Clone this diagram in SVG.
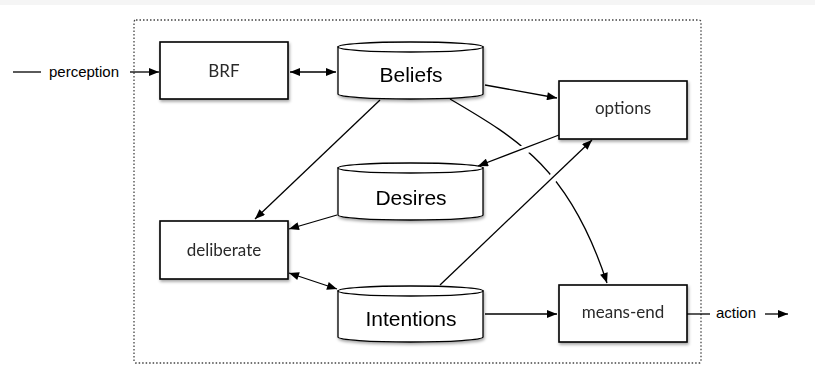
<svg xmlns="http://www.w3.org/2000/svg" width="815" height="377" viewBox="0 0 815 377">
  <defs>
    <filter id="shadow" x="-10%" y="-10%" width="130%" height="140%">
      <feDropShadow dx="1" dy="2" stdDeviation="1.4" flood-color="#000" flood-opacity="0.35"/>
    </filter>
    <marker id="arrow" viewBox="0 0 10 8" refX="10" refY="4" markerWidth="11" markerHeight="8" markerUnits="userSpaceOnUse" orient="auto-start-reverse">
      <path d="M0,0 L10,4 L0,8 Z" fill="#000"/>
    </marker>
    <style>
      .box { fill: #fff; stroke: #000; stroke-width: 1.6; }
      .cyl { fill: #fff; stroke: #000; stroke-width: 1.3; }
      .label { font-family: Lato, "Noto Sans", sans-serif; font-size: 17px; fill: #2a2a2a; text-anchor: middle; }
      .store { font-family: "Liberation Sans", Arial, sans-serif; font-size: 21px; fill: #000; text-anchor: middle; }
      .io { font-family: "Liberation Sans", Arial, sans-serif; font-size: 15px; fill: #000; }
      .edge { fill: none; stroke: #000; stroke-width: 1.3; }
      .halo { fill: none; stroke: #fff; stroke-width: 9; }
    </style>
  </defs>

  <rect x="0" y="0" width="815" height="377" fill="#fff"/>
  <rect x="0" y="0" width="815" height="5" fill="#f5f5f5"/>

  <!-- agent boundary -->
  <rect x="134" y="20" width="567" height="343" rx="2" fill="none" stroke="#444" stroke-width="1.3" stroke-dasharray="1.5 2"/>

  <g id="brf" filter="url(#shadow)">
    <rect class="box" x="160" y="42" width="128" height="57"/>
    <text class="label" x="224" y="77">BRF</text>
  </g>

  <g id="beliefs" filter="url(#shadow)">
    <path class="cyl" d="M338,47 L338,94 A72.5,5 0 0 0 483,94 L483,47 Z"/>
    <ellipse class="cyl" cx="410.5" cy="47" rx="72.5" ry="5"/>
    <text class="store" x="411" y="82">Beliefs</text>
  </g>

  <g id="options" filter="url(#shadow)">
    <rect class="box" x="559" y="81" width="128" height="58"/>
    <text class="label" x="623" y="114">options</text>
  </g>

  <g id="desires" filter="url(#shadow)">
    <path class="cyl" d="M338,168 L338,215 A72.5,5 0 0 0 483,215 L483,168 Z"/>
    <ellipse class="cyl" cx="410.5" cy="168" rx="72.5" ry="5"/>
    <text class="store" x="411" y="205">Desires</text>
  </g>

  <g id="deliberate" filter="url(#shadow)">
    <rect class="box" x="160" y="221" width="128" height="58"/>
    <text class="label" x="224" y="256">deliberate</text>
  </g>

  <g id="intentions" filter="url(#shadow)">
    <path class="cyl" d="M338,291 L338,337 A72.5,5 0 0 0 483,337 L483,291 Z"/>
    <ellipse class="cyl" cx="410.5" cy="291" rx="72.5" ry="5"/>
    <text class="store" x="411" y="326">Intentions</text>
  </g>

  <g id="means-end" filter="url(#shadow)">
    <rect class="box" x="559" y="285" width="128" height="57"/>
    <text class="label" x="623" y="318">means-end</text>
  </g>

  <g id="connectors">
    <!-- input and output -->
    <line class="edge" x1="13" y1="72" x2="41" y2="72"/>
    <text class="io" x="49" y="77">perception</text>
    <line class="edge" x1="130" y1="72" x2="159" y2="72" marker-end="url(#arrow)"/>
    <line class="edge" x1="687" y1="314" x2="710" y2="314"/>
    <text class="io" x="716" y="318">action</text>
    <line class="edge" x1="765" y1="314" x2="788" y2="314" marker-end="url(#arrow)"/>

    <line class="edge" x1="290" y1="72" x2="336" y2="72" marker-start="url(#arrow)" marker-end="url(#arrow)"/>
    <line class="edge" x1="485" y1="85" x2="557" y2="98" marker-end="url(#arrow)"/>
    <line class="edge" x1="380" y1="100" x2="255" y2="219" marker-end="url(#arrow)"/>
    <line class="edge" x1="337" y1="215" x2="289" y2="229" marker-end="url(#arrow)"/>
    <line class="edge" x1="289" y1="273" x2="337" y2="289" marker-start="url(#arrow)" marker-end="url(#arrow)"/>
    <line class="edge" x1="485" y1="314" x2="557" y2="314" marker-end="url(#arrow)"/>

    <!-- beliefs to means-end, passing under the crossing lines -->
    <path class="edge" d="M450,99 C520,140 570,170 607,283" marker-end="url(#arrow)"/>
    <line class="halo" x1="554" y1="139" x2="492" y2="161"/>
    <line class="halo" x1="530" y1="200" x2="575" y2="157"/>
    <line class="edge" x1="559" y1="135" x2="478" y2="166" marker-end="url(#arrow)"/>
    <line class="edge" x1="440" y1="285" x2="592" y2="140" marker-end="url(#arrow)"/>
  </g>
</svg>
